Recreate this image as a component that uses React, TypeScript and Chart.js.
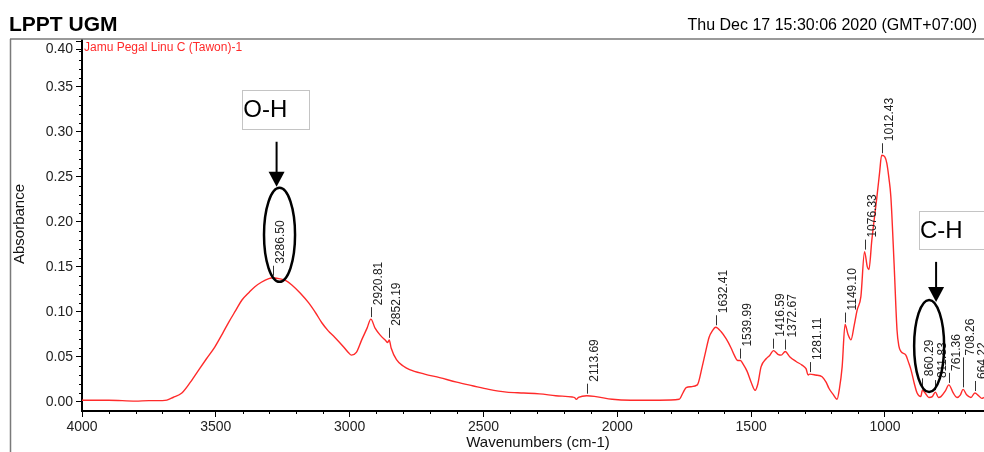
import { useEffect, useRef } from 'react';
import { Chart, registerables } from 'chart.js';

Chart.register(...registerables);

const FONT = '"Liberation Sans", Arial, Helvetica, sans-serif';

const headerTitle = 'LPPT UGM';
const headerDate = 'Thu Dec 17 15:30:06 2020 (GMT+07:00)';
const seriesName = 'Jamu Pegal Linu C (Tawon)-1';
const xTitle = 'Wavenumbers (cm-1)';
const yTitle = 'Absorbance';

const wavenumbers = [
  4000, 3900, 3800, 3750, 3700, 3683, 3660, 3627, 3595, 3563, 3535, 3504, 3475, 3451, 3425, 3403,
  3375, 3354, 3330, 3302, 3286.5, 3265, 3240, 3216, 3185, 3153, 3125, 3104, 3080, 3056, 3025, 3005,
  2993, 2975, 2955, 2935, 2920.81, 2905, 2885, 2865, 2858, 2852.19, 2845, 2825, 2800, 2776, 2720,
  2664, 2600, 2541, 2480, 2414, 2350, 2291, 2230, 2168, 2160, 2153, 2145, 2113.69, 2080, 2019, 1950,
  1900, 1843, 1769, 1755, 1743, 1724, 1701, 1683, 1670, 1657, 1645, 1632.41, 1612, 1593, 1575, 1563,
  1550, 1539.99, 1530, 1515, 1500, 1485, 1475, 1463, 1444, 1430, 1416.59, 1400, 1388, 1372.67, 1355,
  1332, 1310, 1295, 1287, 1281.11, 1260, 1235, 1220, 1209, 1195, 1179, 1170, 1160, 1149.1, 1138,
  1127, 1115, 1104, 1090, 1076.33, 1066, 1060, 1049, 1030, 1020, 1012.43, 1000, 993, 985, 978, 966,
  955, 948, 940, 922, 912, 903, 890, 880, 866, 860.29, 850, 836, 823, 811.83, 800, 791, 775, 761.36,
  745, 731, 718, 708.26, 695, 679, 664.22, 650, 638, 630,
];

const absorbance = [
  0.002, 0.002, 0.001, 0.0015, 0.0015, 0.002, 0.005, 0.01, 0.022, 0.036, 0.048, 0.061, 0.076, 0.089, 0.102, 0.113,
  0.122, 0.128, 0.133, 0.137, 0.138, 0.137, 0.135, 0.13, 0.121, 0.11, 0.098, 0.088, 0.079, 0.072, 0.062, 0.055,
  0.052, 0.055, 0.069, 0.082, 0.092, 0.082, 0.074, 0.068, 0.066, 0.069, 0.06, 0.047, 0.04, 0.036, 0.031,
  0.027, 0.022, 0.018, 0.014, 0.011, 0.01, 0.009, 0.007, 0.0055, 0.005, 0.003, 0.005, 0.007, 0.006, 0.003, 0.002,
  0.002, 0.002, 0.003, 0.01, 0.016, 0.017, 0.019, 0.039, 0.056, 0.072, 0.079, 0.083, 0.078, 0.07, 0.06, 0.052,
  0.046, 0.046, 0.042, 0.034, 0.022, 0.013, 0.02, 0.039, 0.048, 0.052, 0.057, 0.053, 0.052, 0.056, 0.05,
  0.045, 0.041, 0.037, 0.03, 0.031, 0.03, 0.028, 0.022, 0.015, 0.009, 0.003, 0.015, 0.039, 0.086, 0.075,
  0.069, 0.085, 0.102, 0.117, 0.167, 0.15, 0.147, 0.18, 0.228, 0.255, 0.274, 0.272, 0.265, 0.248, 0.228, 0.154,
  0.08, 0.062, 0.056, 0.052, 0.044, 0.036, 0.02, 0.01, 0.006, 0.013, 0.01, 0.005, 0.006, 0.011, 0.005, 0.006, 0.012, 0.019,
  0.01, 0.005, 0.008, 0.014, 0.008, 0.005, 0.01, 0.007, 0.004, 0.005,
];

const xTickValues = [1000, 1500, 2000, 2500, 3000, 3500, 4000];
const yTickValues = [0, 0.05, 0.1, 0.15, 0.2, 0.25, 0.3, 0.35, 0.4];
const yTopLabel = '0.40';

const peakPositions = [
  3286.5, 2920.81, 2852.19, 2113.69, 1632.41, 1539.99, 1416.59, 1372.67, 1281.11, 1149.1, 1076.33,
  1012.43, 860.29, 811.83, 761.36, 708.26, 664.22,
];
const peakLabels = [
  '3286.50', '2920.81', '2852.19', '2113.69', '1632.41', '1539.99', '1416.59', '1372.67', '1281.11',
  '1149.10', '1076.33', '1012.43', '860.29', '811.83', '761.36', '708.26', '664.22',
];
// longer marker ticks for crowded labels
const peakTickOverride: Record<string, number> = { '708.26': 30 };

// band annotations (data units)
const bandNames = ['O-H', 'C-H'];
const bandBoxX = [[3401, 3150], [873, 560]];
const bandBoxY = [[0.347, 0.304], [0.212, 0.17]];
const bandArrowX = [3273, 809];
const bandArrowY = [[0.289, 0.239], [0.1556, 0.111]];
const bandEllipseCenter = [[3262, 0.1856], [835, 0.0622]];
const bandEllipseRadius = [[58, 0.0522], [56, 0.0511]];

function valueAt(w: number): number {
  for (let i = 0; i < wavenumbers.length - 1; i++) {
    const a = wavenumbers[i];
    const b = wavenumbers[i + 1];
    if (w <= a && w >= b) {
      const t = (a - w) / (a - b);
      return absorbance[i] + t * (absorbance[i + 1] - absorbance[i]);
    }
  }
  return 0;
}

const overlayPlugin = {
  id: 'overlay',
  afterDraw(chart: any) {
    const { ctx, chartArea, scales } = chart;
    const xs = scales.x;
    const ys = scales.y;
    ctx.save();

    // header
    ctx.fillStyle = '#000';
    ctx.textAlign = 'left';
    ctx.textBaseline = 'alphabetic';
    ctx.font = `bold 21px ${FONT}`;
    ctx.fillText(headerTitle, 9, 31);
    ctx.font = `16px ${FONT}`;
    ctx.textAlign = 'right';
    ctx.fillText(headerDate, 977, 30);

    // frame lines
    ctx.strokeStyle = '#7a7a7a';
    ctx.lineWidth = 1.5;
    ctx.beginPath();
    ctx.moveTo(10, 39);
    ctx.lineTo(984, 39);
    ctx.moveTo(10.5, 39);
    ctx.lineTo(10.5, 452);
    ctx.stroke();

    // top y label (set slightly below the frame, as in the original print)
    ctx.fillStyle = '#222';
    ctx.font = `14px ${FONT}`;
    ctx.textAlign = 'right';
    ctx.textBaseline = 'middle';
    ctx.fillText(yTopLabel, chartArea.left - 9, 49);

    // minor ticks
    ctx.strokeStyle = '#000';
    ctx.lineWidth = 1;
    ctx.beginPath();
    ctx.moveTo(chartArea.left - 6, 49.5);
    ctx.lineTo(chartArea.left, 49.5);
    for (let v = 700; v <= 4000; v += 100) {
      if (v % 500 === 0) continue;
      const px = Math.round(xs.getPixelForValue(v)) + 0.5;
      ctx.moveTo(px, chartArea.bottom);
      ctx.lineTo(px, chartArea.bottom + 3);
    }
    for (let k = 0; k <= 40; k++) {
      if (k % 5 === 0) continue;
      const py = Math.round(ys.getPixelForValue(k / 100)) + 0.5;
      ctx.moveTo(chartArea.left - 3, py);
      ctx.lineTo(chartArea.left, py);
    }
    ctx.stroke();

    // axis titles
    ctx.fillStyle = '#111';
    ctx.font = `15px ${FONT}`;
    ctx.textAlign = 'center';
    ctx.textBaseline = 'middle';
    ctx.fillText(xTitle, 538, 443);
    ctx.save();
    ctx.translate(20, 224);
    ctx.rotate(-Math.PI / 2);
    ctx.fillText(yTitle, 0, 0);
    ctx.restore();

    // series name
    ctx.fillStyle = '#ff2a2a';
    ctx.font = `12px ${FONT}`;
    ctx.textAlign = 'left';
    ctx.textBaseline = 'middle';
    ctx.fillText(seriesName, chartArea.left + 2, 48);

    // peak labels
    ctx.font = `12px ${FONT}`;
    ctx.fillStyle = '#222';
    ctx.strokeStyle = '#333';
    ctx.lineWidth = 1;
    peakPositions.forEach((w, i) => {
      const label = peakLabels[i];
      const px = Math.round(xs.getPixelForValue(w)) + 0.5;
      const py = ys.getPixelForValue(valueAt(w));
      const len = peakTickOverride[label] ?? 10;
      ctx.beginPath();
      ctx.moveTo(px, py - 2);
      ctx.lineTo(px, py - 2 - len);
      ctx.stroke();
      ctx.save();
      ctx.translate(px + 1, py - 4 - len);
      ctx.rotate(-Math.PI / 2);
      ctx.textAlign = 'left';
      ctx.textBaseline = 'top';
      ctx.fillText(label, 0, 0);
      ctx.restore();
    });

    // band annotations
    bandNames.forEach((name, i) => {
      const bx1 = xs.getPixelForValue(bandBoxX[i][0]);
      const bx2 = xs.getPixelForValue(bandBoxX[i][1]);
      const by1 = ys.getPixelForValue(bandBoxY[i][0]);
      const by2 = ys.getPixelForValue(bandBoxY[i][1]);
      ctx.fillStyle = '#fff';
      ctx.fillRect(bx1, by1, bx2 - bx1, by2 - by1);
      ctx.save();
      ctx.setLineDash([1, 1]);
      ctx.strokeStyle = '#888';
      ctx.lineWidth = 1;
      ctx.strokeRect(Math.round(bx1) + 0.5, Math.round(by1) + 0.5, Math.round(bx2 - bx1), Math.round(by2 - by1));
      ctx.restore();
      ctx.fillStyle = '#000';
      ctx.font = `24px ${FONT}`;
      ctx.textAlign = 'left';
      ctx.textBaseline = 'middle';
      ctx.fillText(name, bx1 + 1, (by1 + by2) / 2 + 1);

      // arrow
      const ax = xs.getPixelForValue(bandArrowX[i]);
      const ay1 = ys.getPixelForValue(bandArrowY[i][0]);
      const ay2 = ys.getPixelForValue(bandArrowY[i][1]);
      ctx.strokeStyle = '#000';
      ctx.lineWidth = 2;
      ctx.beginPath();
      ctx.moveTo(ax, ay1);
      ctx.lineTo(ax, ay2 - 12);
      ctx.stroke();
      ctx.fillStyle = '#000';
      ctx.beginPath();
      ctx.moveTo(ax - 8, ay2 - 15);
      ctx.lineTo(ax + 8, ay2 - 15);
      ctx.lineTo(ax, ay2);
      ctx.closePath();
      ctx.fill();

      // ellipse
      const ex = xs.getPixelForValue(bandEllipseCenter[i][0]);
      const ey = ys.getPixelForValue(bandEllipseCenter[i][1]);
      const rx = Math.abs(xs.getPixelForValue(bandEllipseCenter[i][0] + bandEllipseRadius[i][0]) - ex);
      const ry = Math.abs(ys.getPixelForValue(bandEllipseCenter[i][1] + bandEllipseRadius[i][1]) - ey);
      ctx.lineWidth = 2.5;
      ctx.beginPath();
      ctx.ellipse(ex, ey, rx, ry, 0, 0, Math.PI * 2);
      ctx.stroke();
    });

    ctx.restore();
  },
};

export default function App() {
  const canvasRef = useRef<HTMLCanvasElement | null>(null);

  useEffect(() => {
    if (!canvasRef.current) return;
    const chart = new Chart(canvasRef.current, {
      type: 'line',
      data: {
        datasets: [
          {
            label: seriesName,
            data: wavenumbers.map((w, i) => ({ x: w, y: absorbance[i] })),
            borderColor: '#ff2a2a',
            borderWidth: 1.4,
            pointRadius: 0,
            cubicInterpolationMode: 'monotone',
            fill: false,
          },
        ],
      },
      options: {
        animation: false,
        responsive: true,
        maintainAspectRatio: false,
        devicePixelRatio: 1,
        layout: { padding: { top: 40, left: 0, right: 0, bottom: 0 } },
        plugins: {
          legend: { display: false },
          tooltip: { enabled: false },
          title: { display: false },
        },
        scales: {
          x: {
            type: 'linear',
            reverse: true,
            min: 630,
            max: 4000,
            afterFit: (s: any) => {
              s.height = 41;
            },
            afterBuildTicks: (s: any) => {
              s.ticks = xTickValues.map((v) => ({ value: v }));
            },
            grid: { drawOnChartArea: false, drawTicks: true, tickLength: 6, color: '#000', tickWidth: 1 },
            border: { display: true, color: '#000', width: 2 },
            ticks: {
              color: '#222',
              font: { family: FONT, size: 14 },
              maxRotation: 0,
              autoSkip: false,
              padding: 2,
              callback: (v: any) => String(v),
            },
          },
          y: {
            type: 'linear',
            min: -0.01,
            max: 0.402,
            afterFit: (s: any) => {
              s.width = 82;
            },
            afterBuildTicks: (s: any) => {
              s.ticks = yTickValues.map((v) => ({ value: v }));
            },
            grid: { drawOnChartArea: false, drawTicks: true, tickLength: 6, color: '#000', tickWidth: 1 },
            border: { display: true, color: '#000', width: 2 },
            ticks: {
              color: '#222',
              font: { family: FONT, size: 14 },
              padding: 3,
              callback: (v: any) => (Math.abs(Number(v) - 0.4) < 1e-9 ? '' : Number(v).toFixed(2)),
            },
          },
        },
      },
      plugins: [overlayPlugin],
    } as any);
    return () => chart.destroy();
  }, []);

  return (
    <div style={{ position: 'absolute', left: 0, top: 0, width: 984, height: 452, background: '#fff' }}>
      <canvas ref={canvasRef} />
    </div>
  );
}
